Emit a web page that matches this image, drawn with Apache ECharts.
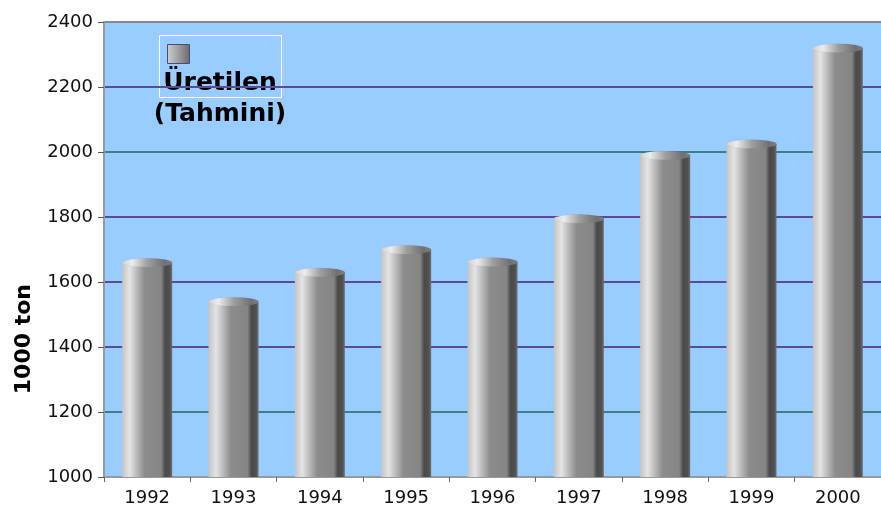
<!DOCTYPE html>
<html>
<head>
<meta charset="utf-8">
<script src="https://cdn.jsdelivr.net/npm/echarts@6/dist/echarts.min.js"></script>
<style>
  html, body { margin: 0; padding: 0; background: #fff; }
  #chart { width: 881px; height: 514px; }
</style>
</head>
<body>
<div id="chart"></div>
<script>
var years = ['1992', '1993', '1994', '1995', '1996', '1997', '1998', '1999', '2000'];
var uretilen = [1660, 1540, 1630, 1700, 1662, 1795, 1990, 2025, 2320];
var seriesName = 'Üretilen (Tahmini)';
var gridColors = ['#888888', '#3f7f7f', '#5a4a9a', '#5a4a9a', '#5a4a9a', '#3f7f7f', '#5a4a9a', '#888888'];

var dom = document.getElementById('chart');
var myChart = echarts.init(dom, null, { renderer: 'canvas' });

var barGradient = new echarts.graphic.LinearGradient(0, 0, 1, 0, [
    { offset: 0, color: '#c4c4c4' },
    { offset: 0.15, color: '#e4e4e4' },
    { offset: 0.3, color: '#b8b8b8' },
    { offset: 0.45, color: '#8c8c8c' },
    { offset: 0.78, color: '#858585' },
    { offset: 0.86, color: '#4a4a4a' },
    { offset: 0.95, color: '#505050' },
    { offset: 1, color: '#707070' }
]);
var capGradient = new echarts.graphic.LinearGradient(0, 0, 1, 0, [
    { offset: 0, color: '#d0d0d0' },
    { offset: 0.2, color: '#ececec' },
    { offset: 0.5, color: '#a0a0a0' },
    { offset: 0.85, color: '#707070' },
    { offset: 1, color: '#808080' }
]);
var iconGradient = new echarts.graphic.LinearGradient(0, 0, 1, 0, [
    { offset: 0, color: '#cfcfcf' },
    { offset: 0.4, color: '#a8a8a8' },
    { offset: 1, color: '#6a6a6a' }
]);

var option = {
    animation: false,
    backgroundColor: '#ffffff',
    grid: { left: 104, right: -9, top: 22, bottom: 37, show: true, backgroundColor: '#99ccff', borderWidth: 0 },
    legend: {
        data: [{ name: seriesName, icon: 'rect', itemStyle: { color: iconGradient } }],
        left: 167, top: 44, padding: 0,
        itemWidth: 22, itemHeight: 19,
        itemStyle: { borderColor: '#4a4a7a', borderWidth: 1 },
        formatter: function () { return ''; }
    },
    xAxis: {
        type: 'category',
        data: years,
        axisLine: { lineStyle: { color: '#999999', width: 2 } },
        axisTick: { show: true, length: 5, lineStyle: { color: '#666' } },
        axisLabel: { fontFamily: 'DejaVu Sans', fontSize: 18, color: '#111', margin: 12 }
    },
    yAxis: {
        type: 'value',
        min: 1000, max: 2400, interval: 200,
        axisLine: { show: true, lineStyle: { color: '#999999', width: 2 } },
        axisTick: { show: true, length: 6, lineStyle: { color: '#555' } },
        axisLabel: { fontFamily: 'DejaVu Sans', fontSize: 18, color: '#111', margin: 11,
            formatter: function (v) { return String(v); } },
        splitLine: { show: true, lineStyle: { color: gridColors, width: 2 } }
    },
    graphic: [
        {
            type: 'rect', left: 157, top: 33,
            shape: { width: 122, height: 62 },
            style: { fill: 'none', stroke: '#ffffff', lineWidth: 1 }
        },
        {
            type: 'text', x: 220, y: 68,
            style: {
                text: 'Üretilen\n(Tahmini)',
                font: 'bold 25px "DejaVu Sans"',
                fill: '#000', align: 'center', lineHeight: 31
            }
        },
        {
            type: 'text', x: 13, y: 284, rotation: Math.PI / 2,
            style: { text: '1000 ton', font: 'bold 22px "DejaVu Sans"', fill: '#000', align: 'right', verticalAlign: 'top' }
        }
    ],
    series: [
        {
            name: seriesName,
            type: 'bar',
            data: uretilen,
            barWidth: 50,
            itemStyle: { color: barGradient }
        },
        {
            name: 'cap',
            type: 'pictorialBar',
            data: uretilen,
            symbol: 'circle',
            symbolSize: [50, 9],
            symbolPosition: 'end',
            symbolOffset: [0, '-50%'],
            itemStyle: { color: capGradient, borderColor: '#6a5a9a', borderWidth: 1 },
            z: 3
        }
    ]
};

myChart.setOption(option);
window.addEventListener('resize', myChart.resize);
</script>
</body>
</html>
